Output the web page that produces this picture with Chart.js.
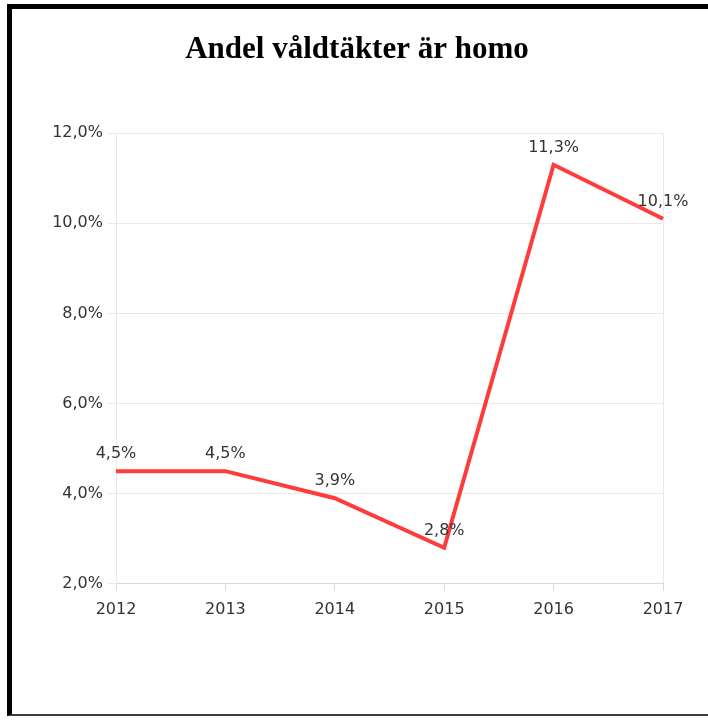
<!DOCTYPE html>
<html>
<head>
<meta charset="utf-8">
<script src="https://cdn.jsdelivr.net/npm/chart.js@4/dist/chart.umd.min.js"></script>
<style>
  html, body { margin: 0; padding: 0; background: #fff; }
  #frame {
    position: absolute;
    left: 7px;
    top: 4px;
    width: 701px;
    height: 712px;
    border-left: 5px solid #000;
    border-top: 5px solid #000;
    border-bottom: 2px solid #3c3c3c;
    box-sizing: border-box;
  }
  #wrap { position: absolute; left: 0; top: 0; width: 696px; height: 705px; }
</style>
</head>
<body>
<div id="frame">
  <div id="wrap"><canvas id="homoChart"></canvas></div>
</div>
<script>
// Andel våldtäkter per år (procent)
const years = ["2012", "2013", "2014", "2015", "2016", "2017"];
const andel = [4.5, 4.5, 3.9, 2.8, 11.3, 10.1];
const yTicks = [2, 4, 6, 8, 10, 12];

const textColor = "#333333";
const gridColor = "#e9e9e9";
const labelFont = "'DejaVu Sans', sans-serif";

function pct(v) {
  return v.toFixed(1).replace(".", ",") + "%";
}

// Värdeetiketter ovanför varje punkt
const valueLabels = {
  id: "valueLabels",
  afterDatasetsDraw(chart) {
    const ctx = chart.ctx;
    const meta = chart.getDatasetMeta(0);
    ctx.save();
    ctx.font = "16px " + labelFont;
    ctx.fillStyle = textColor;
    ctx.textAlign = "center";
    ctx.textBaseline = "middle";
    meta.data.forEach((pt, i) => {
      ctx.fillText(pct(andel[i]), pt.x, pt.y - 17);
    });
    ctx.restore();
  },
};

new Chart(document.getElementById("homoChart"), {
  type: "line",
  data: {
    labels: years,
    datasets: [
      {
        data: andel,
        borderColor: "#ff3b3b",
        borderWidth: 4,
        pointRadius: 0,
        tension: 0,
        fill: false,
      },
    ],
  },
  options: {
    responsive: true,
    maintainAspectRatio: false,
    animation: false,
    layout: {
      padding: { top: 0, right: 45, bottom: 86, left: 39 },
    },
    plugins: {
      legend: { display: false },
      tooltip: { enabled: false },
      title: {
        display: true,
        text: "Andel våldtäkter är homo",
        color: "#000",
        font: { family: "'Liberation Serif', serif", size: 31, weight: "bold" },
        padding: { top: 22, bottom: 65 },
      },
    },
    scales: {
      x: {
        offset: false,
        grid: {
          color: (c) => (c.index === years.length - 1 ? gridColor : "transparent"),
          tickColor: "#d9d9d9",
          tickLength: 7,
        },
        border: { color: "#d9d9d9" },
        ticks: {
          color: textColor,
          font: { family: labelFont, size: 16 },
          padding: 9,
          maxRotation: 0,
        },
      },
      y: {
        min: 2,
        max: 12,
        afterFit: (scale) => {
          scale.width = 65;
        },
        afterBuildTicks: (scale) => {
          scale.ticks = yTicks.map((v) => ({ value: v }));
        },
        grid: {
          color: gridColor,
          tickLength: 8,
        },
        border: { color: gridColor },
        ticks: {
          color: textColor,
          font: { family: labelFont, size: 16 },
          padding: 5,
          callback: (v) => pct(v),
        },
      },
    },
  },
  plugins: [valueLabels],
});
</script>
</body>
</html>
